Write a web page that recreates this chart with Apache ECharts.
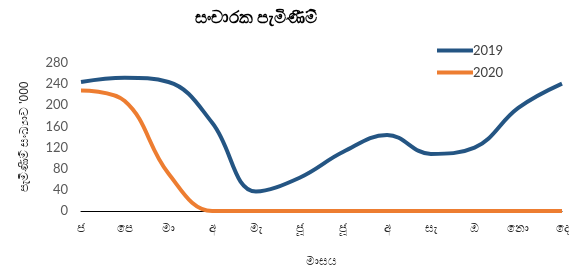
<!DOCTYPE html>
<html>
<head>
<meta charset="utf-8">
<script src="https://cdn.jsdelivr.net/npm/echarts@6/dist/echarts.min.js"></script>
<style>
  html, body { margin: 0; padding: 0; background: #fff; }
  #chart { width: 572px; height: 276px; }
</style>
</head>
<body>
<div id="chart"></div>
<script>
// months (Sinhala short names)
const months = ['ජ', 'පෙ', 'මා', 'අ', 'මැ', 'ජූ', 'ජූ', 'අ', 'සැ', 'ඔ', 'නො', 'දෙ']
// arrivals in thousands
const arrivals2019 = [244, 252, 244, 167, 37, 63, 112, 144, 108, 120, 195, 241]
const arrivals2020 = [228, 208, 71, 0, 0, 0, 0, 0, 0, 0, 0, 0]
const yTicks = [0, 40, 80, 120, 160, 200, 240, 280]

const chart = echarts.init(document.getElementById('chart'))
const axisText = { color: '#595959', fontSize: 13, fontFamily: 'Lato, sans-serif' }

chart.setOption({
  animation: false,
  title: {
    text: 'සංචාරක පැමිණීම්',
    left: 251,
    top: 5,
    textAlign: 'center',
    textStyle: { fontSize: 17, fontWeight: 'bold', color: '#000' }
  },
  legend: {
    orient: 'vertical',
    left: 432,
    top: 39,
    itemWidth: 36,
    itemHeight: 4,
    itemGap: 9,
    icon: 'rect',
    textStyle: { fontSize: 13, color: '#404040', padding: [0, 0, 0, -5], fontFamily: 'Lato, sans-serif' },
    data: ['2019', '2020']
  },
  grid: { left: 81, right: 10, top: 63, bottom: 65 },
  xAxis: {
    type: 'category',
    data: months,
    boundaryGap: false,
    name: 'මාසය',
    nameLocation: 'middle',
    nameGap: 45,
    nameTextStyle: { fontSize: 12, color: '#262626' },
    axisLine: { lineStyle: { color: '#000', width: 1 } },
    axisTick: { show: false },
    axisLabel: { color: '#262626', fontSize: 12, margin: 12 }
  },
  yAxis: {
    type: 'value',
    min: yTicks[0],
    max: yTicks[yTicks.length - 1],
    interval: 40,
    name: 'පැමිණීම් සංඛ්‍යාව \'000',
    nameLocation: 'middle',
    nameGap: 50,
    nameTextStyle: { fontSize: 12, color: '#262626' },
    axisLine: { show: false },
    axisTick: { show: false },
    splitLine: { show: false },
    axisLabel: Object.assign({ margin: 13 }, axisText)
  },
  series: [
    {
      name: '2019',
      type: 'line',
      data: arrivals2019,
      smooth: 0.4,
      symbol: 'none',
      lineStyle: { color: '#245583', width: 4 },
      itemStyle: { color: '#245583' }
    },
    {
      name: '2020',
      type: 'line',
      data: arrivals2020,
      smooth: 0.4,
      symbol: 'none',
      lineStyle: { color: '#ED7D31', width: 4 },
      itemStyle: { color: '#ED7D31' }
    }
  ]
})
</script>
</body>
</html>
